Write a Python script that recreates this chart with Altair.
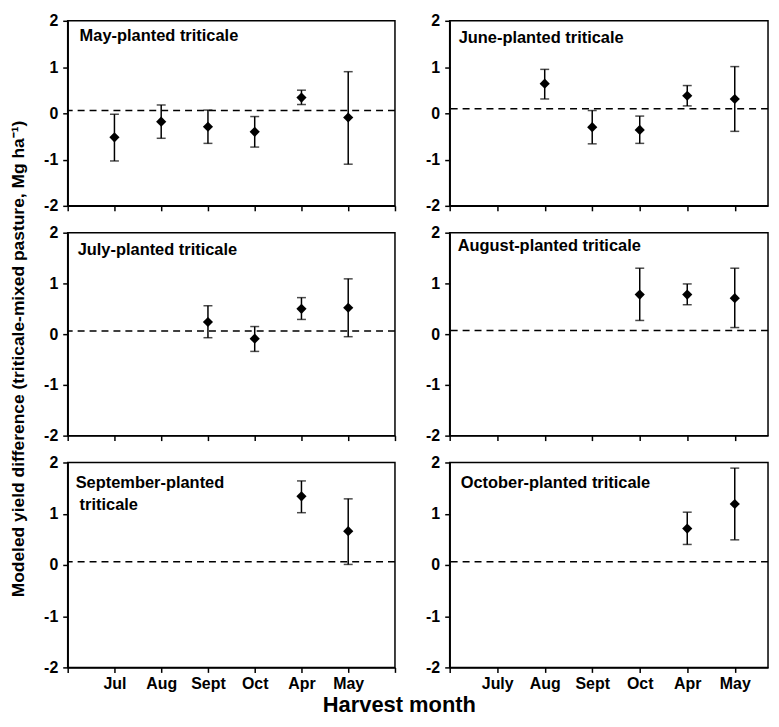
import json
import altair as alt
import pandas as pd

# ---------------- data ----------------
months_left = ["Jul", "Aug", "Sept", "Oct", "Apr", "May"]
months_right = ["July", "Aug", "Sept", "Oct", "Apr", "May"]

title_lines = [
    ["May-planted triticale"],
    ["June-planted triticale"],
    ["July-planted triticale"],
    ["August-planted triticale"],
    ["September-planted", "triticale"],
    ["October-planted triticale"],
]

may_mean = [-0.52, -0.18, -0.29, -0.40, 0.34, -0.09]
may_low = [-1.03, -0.54, -0.65, -0.73, 0.19, -1.10]
may_high = [-0.02, 0.18, 0.07, -0.07, 0.50, 0.90]

june_mean = [None, 0.64, -0.30, -0.36, 0.38, 0.31]
june_low = [None, 0.31, -0.66, -0.65, 0.16, -0.39]
june_high = [None, 0.95, 0.06, -0.06, 0.60, 1.01]

july_mean = [None, None, 0.24, -0.09, 0.50, 0.52]
july_low = [None, None, -0.07, -0.34, 0.29, -0.05]
july_high = [None, None, 0.56, 0.15, 0.72, 1.09]

aug_mean = [None, None, None, 0.78, 0.78, 0.71]
aug_low = [None, None, None, 0.27, 0.58, 0.13]
aug_high = [None, None, None, 1.30, 0.99, 1.30]

sep_mean = [None, None, None, None, 1.34, 0.66]
sep_low = [None, None, None, None, 1.02, 0.01]
sep_high = [None, None, None, None, 1.64, 1.29]

oct_mean = [None, None, None, None, 0.71, 1.19]
oct_low = [None, None, None, None, 0.40, 0.49]
oct_high = [None, None, None, None, 1.03, 1.89]

ref_lines = [0.06, 0.10, 0.06, 0.07, 0.06, 0.06]

y_ticks = [-2, -1, 0, 1, 2]

series = [
    (may_mean, may_low, may_high),
    (june_mean, june_low, june_high),
    (july_mean, july_low, july_high),
    (aug_mean, aug_low, aug_high),
    (sep_mean, sep_low, sep_high),
    (oct_mean, oct_low, oct_high),
]

y_title = "Modeled yield difference (triticale-mixed pasture, Mg ha\u207b\u00b9)"
x_title = "Harvest month"

# ---------------- layout ----------------
FONT = "Liberation Sans"
widths = [329, 320]
x_max = [7, 6.7]
heights = [186, 204, 206]
title_x = [12, 9, 10, 8, 8, 11]
title_y = [15, 17, 17, 13, 21, 21]

y_label_expr = "datum.value < 0 ? '-' + (-datum.value) : '' + datum.value"


def make_panel(i):
    row, col = divmod(i, 2)
    months = months_left if col == 0 else months_right
    mean, low, high = series[i]
    recs = []
    for k in range(len(months)):
        if mean[k] is not None:
            recs.append({"pos": k + 1, "month": months[k], "mean": mean[k],
                         "low": low[k], "high": high[k]})
    df = pd.DataFrame(recs)

    tick_vals = [v for v in range(8) if v <= x_max[col]]
    xaxis_kw = dict(values=tick_vals, title=None, tickSize=5, grid=False)
    if row == 2:
        labels = [""] + months + [""]
        xaxis_kw["labelExpr"] = json.dumps(labels) + "[datum.value]"
        xaxis_kw["labelPadding"] = 3
    else:
        xaxis_kw["labels"] = False
    x = alt.X("pos:Q", scale=alt.Scale(domain=[0, x_max[col]], nice=False, zero=False),
              axis=alt.Axis(**xaxis_kw))
    yscale = alt.Scale(domain=[-2, 2], nice=False, zero=False)
    yaxis = alt.Axis(values=y_ticks, title=None, labelExpr=y_label_expr,
                     labelPadding=5, tickSize=5, grid=False)

    base = alt.Chart(df)
    bars = base.mark_rule(color="black", strokeWidth=1.5).encode(
        x=x, y=alt.Y("low:Q", scale=yscale, axis=yaxis), y2="high:Q")
    cap_hi = base.mark_tick(orient="horizontal", size=9, thickness=1.5, color="black").encode(
        x=x, y=alt.Y("high:Q", scale=yscale, axis=yaxis))
    cap_lo = base.mark_tick(orient="horizontal", size=9, thickness=1.5, color="black").encode(
        x=x, y=alt.Y("low:Q", scale=yscale, axis=yaxis))
    pts = base.mark_point(shape="diamond", filled=True, size=105, color="black", opacity=1).encode(
        x=x, y=alt.Y("mean:Q", scale=yscale, axis=yaxis))
    ref = alt.Chart(pd.DataFrame({"ref": [ref_lines[i]]})).mark_rule(
        color="black", strokeWidth=1.5, strokeDash=[7, 5]).encode(
        y=alt.Y("ref:Q", scale=yscale, axis=yaxis))

    layers = [ref, bars, cap_hi, cap_lo, pts]
    for j, line in enumerate(title_lines[i]):
        layers.append(
            alt.Chart(pd.DataFrame({"t": [line]})).mark_text(
                align="left", baseline="middle", font=FONT, fontSize=16.5,
                fontWeight="bold", color="black").encode(
                x=alt.value(title_x[i] + (4 if j > 0 else 0)),
                y=alt.value(title_y[i] + 22 * j),
                text="t:N"))
    if i == 2:
        layers.append(
            alt.Chart(pd.DataFrame({"t": [y_title]})).mark_text(
                align="center", baseline="middle", angle=270, font=FONT, fontSize=17.5,
                fontWeight="bold", color="black").encode(
                x=alt.value(-49), y=alt.value(127), text="t:N"))
    return alt.layer(*layers).properties(width=widths[col], height=heights[row])


panels = [make_panel(i) for i in range(6)]

chart = alt.concat(
    *panels, columns=2, spacing={"row": 27, "column": 55}, bounds="flush"
).properties(
    title=alt.TitleParams(x_title, orient="bottom", anchor="middle", fontSize=22,
                          fontWeight="bold", font=FONT, color="black", offset=3, dx=10),
    padding={"left": 1, "right": 1, "top": 2, "bottom": 1},
).configure_view(
    stroke="black", strokeWidth=1.5
).configure_axis(
    domainColor="black", domainWidth=1.5, tickColor="black", tickWidth=1.5,
    labelFont=FONT, labelFontSize=16, labelFontWeight="bold", labelColor="black",
)

chart.save("out.html", embed_options={"renderer": "svg", "actions": False})
